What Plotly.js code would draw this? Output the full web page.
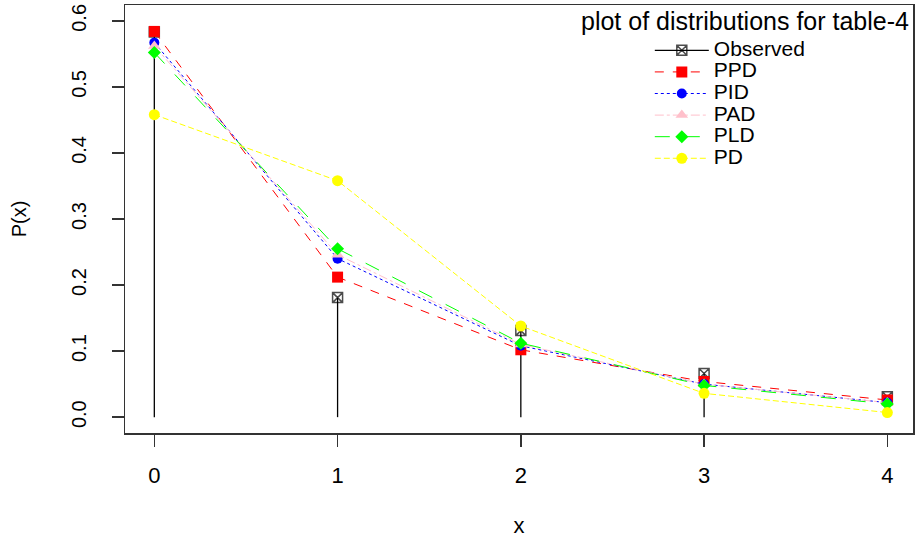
<!DOCTYPE html>
<html>
<head>
<meta charset="utf-8">
<script src="https://cdn.plot.ly/plotly-3.0.1.min.js"></script>
<style>html,body{margin:0;padding:0;background:#fff;}#chart{width:916px;height:544px;}</style>
</head>
<body>
<div id="chart"></div>
<script>
// ---- data ----
const xVals = [0, 1, 2, 3, 4];
const observed = [0.583, 0.181, 0.131, 0.066, 0.031];
const ppd = [0.584, 0.212, 0.102, 0.054, 0.026];
const pid = [0.567, 0.240, 0.108, 0.050, 0.022];
const pad = [0.562, 0.246, 0.110, 0.050, 0.022];
const pld = [0.552, 0.255, 0.112, 0.048, 0.020];
const pd  = [0.458, 0.358, 0.138, 0.036, 0.007];
const seriesNames = ["Observed", "PPD", "PID", "PAD", "PLD", "PD"];
const xTickVals = [0, 1, 2, 3, 4];
const yTickVals = [0, 0.1, 0.2, 0.3, 0.4, 0.5, 0.6];
const legendTitle = "plot of distributions for table-4";

// Observed drawn as vertical spikes (type "h") with a marker on top.
// Sizes: baseline point hidden (0), top point 10, gap entry 20 (not drawn) so the legend marker averages to 10.
const obsX = [], obsY = [], obsSize = [];
xVals.forEach((x, i) => {
  obsX.push(x, x, null);
  obsY.push(0, observed[i], null);
  obsSize.push(0, 10, 20);
});

const FONT = "Liberation Sans, Arial, sans-serif";
const big = s => '<span style="font-size:21px">' + s + '</span>';
const traces = [
  {x: obsX, y: obsY, name: big(seriesNames[0]), mode: "lines+markers", connectgaps: false,
   line: {color: "#000", width: 1.3},
   marker: {symbol: "square-x-open", size: obsSize, color: "#000", line: {color: "#000", width: 1.5}}},
  {x: xVals, y: ppd, name: big(seriesNames[1]), mode: "lines+markers",
   line: {color: "#ff0000", width: 1, dash: "dash"},
   marker: {symbol: "square", size: 11, color: "#ff0000"}},
  {x: xVals, y: pid, name: big(seriesNames[2]), mode: "lines+markers",
   line: {color: "#0000ff", width: 1, dash: "dot"},
   marker: {symbol: "circle", size: 10, color: "#0000ff"}},
  {x: xVals, y: pad, name: big(seriesNames[3]), mode: "lines+markers",
   line: {color: "#ffc0cb", width: 1, dash: "dashdot"},
   marker: {symbol: "triangle-up", size: 11, color: "#ffc0cb"}},
  {x: xVals, y: pld, name: big(seriesNames[4]), mode: "lines+markers",
   line: {color: "#00ff00", width: 1, dash: "longdash"},
   marker: {symbol: "diamond", size: 10, color: "#00ff00"}},
  {x: xVals, y: pd, name: big(seriesNames[5]), mode: "lines+markers",
   line: {color: "#ffff00", width: 1, dash: "6px,3px"},
   marker: {symbol: "circle", size: 11, color: "#ffff00"}}
];

const axisCommon = {
  showgrid: false, zeroline: false, showline: true, mirror: true,
  linecolor: "#333", linewidth: 1.5,
  ticks: "outside", ticklen: 12, tickwidth: 1.5, tickcolor: "#333",
  tickfont: {family: FONT, size: 22, color: "#000"}
};

const layout = {
  width: 916, height: 544,
  margin: {l: 125, r: 3, t: 5, b: 111},
  paper_bgcolor: "#fff", plot_bgcolor: "#fff",
  font: {family: FONT, color: "#000"},
  showlegend: true,
  legend: {x: 0.666, y: 0.931, xanchor: "left", yanchor: "top",
           bgcolor: "rgba(0,0,0,0)", borderwidth: 0, itemwidth: 54,
           font: {family: FONT, size: 14.3, color: "#000"}},
  xaxis: Object.assign({}, axisCommon, {
    range: [-0.16, 4.14], tickvals: xTickVals, ticktext: xTickVals.map(String),
    ticklabelstandoff: 10,
    title: {text: "x", font: {family: FONT, size: 22, color: "#000"}, standoff: 30}
  }),
  yaxis: Object.assign({}, axisCommon, {
    range: [-0.024, 0.624], tickvals: yTickVals, ticktext: yTickVals.map(v => v.toFixed(1)),
    tickangle: -90, ticklabelstandoff: 18,
    tickfont: {family: FONT, size: 20, color: "#000"},
    title: {text: "P(x)", font: {family: FONT, size: 20, color: "#000"}, standoff: 35}
  }),
  annotations: [{
    text: legendTitle, xref: "paper", yref: "paper", x: 0.997, y: 0.963,
    xanchor: "right", yanchor: "middle", showarrow: false,
    font: {family: FONT, size: 25, color: "#000"}
  }]
};

Plotly.newPlot("chart", traces, layout, {displayModeBar: false, staticPlot: true});
</script>
</body>
</html>
